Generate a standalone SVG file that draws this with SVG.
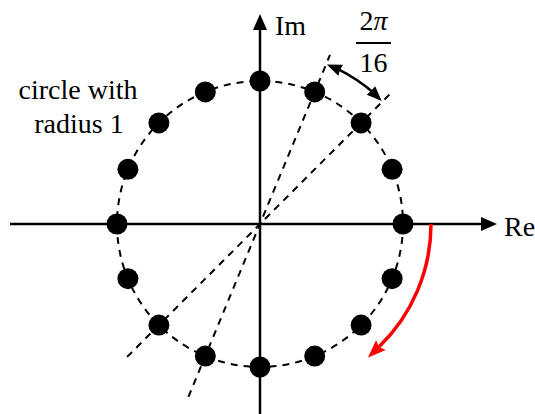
<svg xmlns="http://www.w3.org/2000/svg" width="535" height="414" viewBox="0 0 535 414">
<style>
.axis{stroke:#000;stroke-width:2.5;fill:none}
.dash{stroke:#000;stroke-width:2;fill:none;stroke-dasharray:7 6}
.dot{fill:#000}
.head{fill:#000}
.t{font-family:"Liberation Serif","Times New Roman",serif;font-size:28px;fill:#000}
</style>
<defs>
<marker id="ax" markerUnits="userSpaceOnUse" markerWidth="16" markerHeight="14" refX="1" refY="7" orient="auto" overflow="visible"><path d="M0,0 L16,7 L0,14 z" fill="#000"/></marker>
<marker id="red" markerUnits="userSpaceOnUse" markerWidth="18" markerHeight="14" refX="3" refY="7" orient="auto" overflow="visible"><path d="M0,0 L18,7 L0,14 L3,7 z" fill="#f00"/></marker>
</defs>
<g id="connectors">
<line class="axis" x1="10" y1="224" x2="482" y2="224" marker-end="url(#ax)"/>
<line class="axis" x1="260" y1="414" x2="260" y2="29" marker-end="url(#ax)"/>
<circle class="dash" cx="260" cy="224" r="143"/>
<line class="dash" x1="188.4" y1="396.8" x2="330" y2="54.9"/>
<line class="dash" x1="127.1" y1="356.9" x2="389.4" y2="94.6"/>
<path d="M338.5,69.3 A173,173 0 0 1 373,92.2" fill="none" stroke="#000" stroke-width="2.5"/>
<polygon class="head" points="326.8,64.4 342.9,64.7 340,70 338.3,75.7"/>
<polygon class="head" points="381.7,101 375.2,86.2 370.6,91.2 366.8,94.8"/>
<path d="M431,224 A171,171 0 0 1 378.8,347" fill="none" stroke="#f00" stroke-width="3.5" marker-end="url(#red)"/>
</g>
<g id="points">
<circle class="dot" cx="403" cy="224" r="10.5"/>
<circle class="dot" cx="392.1" cy="169.3" r="10.5"/>
<circle class="dot" cx="361.1" cy="122.9" r="10.5"/>
<circle class="dot" cx="314.7" cy="91.9" r="10.5"/>
<circle class="dot" cx="260" cy="81" r="10.5"/>
<circle class="dot" cx="205.3" cy="91.9" r="10.5"/>
<circle class="dot" cx="158.9" cy="122.9" r="10.5"/>
<circle class="dot" cx="127.9" cy="169.3" r="10.5"/>
<circle class="dot" cx="117" cy="224" r="10.5"/>
<circle class="dot" cx="127.9" cy="278.7" r="10.5"/>
<circle class="dot" cx="158.9" cy="325.1" r="10.5"/>
<circle class="dot" cx="205.3" cy="356.1" r="10.5"/>
<circle class="dot" cx="260" cy="367" r="10.5"/>
<circle class="dot" cx="314.7" cy="356.1" r="10.5"/>
<circle class="dot" cx="361.1" cy="325.1" r="10.5"/>
<circle class="dot" cx="392.1" cy="278.7" r="10.5"/>
</g>
<g id="labels">
<text class="t" x="275" y="35">Im</text>
<text class="t" x="504" y="236">Re</text>
<text class="t" x="78" y="99" text-anchor="middle" font-size="27">circle with</text>
<text class="t" x="79" y="133" text-anchor="middle" font-size="27">radius 1</text>
<text class="t" x="373.5" y="30" text-anchor="middle">2<tspan font-style="italic">π</tspan></text>
<line x1="356" y1="43" x2="391" y2="43" stroke="#000" stroke-width="2"/>
<text class="t" x="373.5" y="72" text-anchor="middle">16</text>
</g>
</svg>
